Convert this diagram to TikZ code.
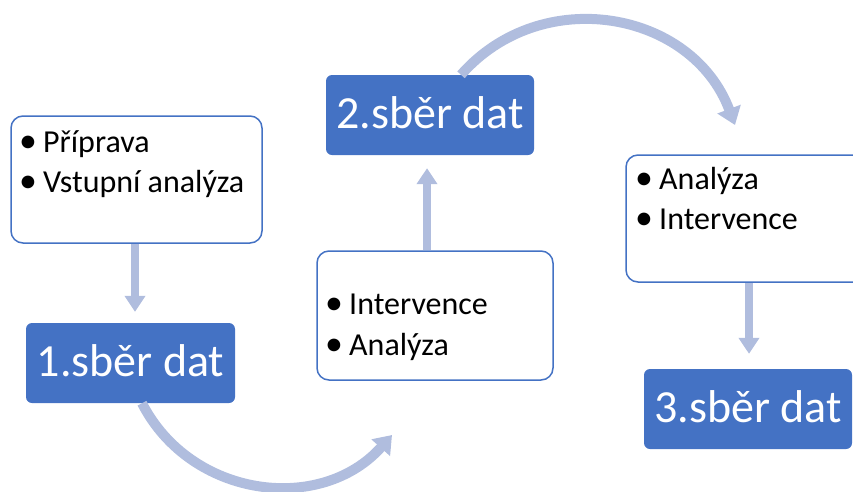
\documentclass[tikz,border=0pt]{standalone}
\usepackage{fontspec}
\usepackage{graphicx}
\setmainfont{Carlito}
\usetikzlibrary{arrows.meta}
\definecolor{boxblue}{RGB}{68,114,196}
\definecolor{arrowblue}{RGB}{176,189,222}
\newcommand{\bul}[1]{\makebox[24pt][l]{\raisebox{-0.5pt}{\scalebox{1.12}{\textbullet}}}#1}

\begin{document}
\begin{tikzpicture}[x=1pt,y=-1pt,
    listbox/.style={draw=boxblue,line width=1.5pt,fill=white,rounded corners=12pt,inner sep=0pt},
    roundbox/.style={fill=boxblue,rounded corners=6pt,text=white,font=\fontsize{46}{52}\selectfont,
      minimum width=208pt,minimum height=80pt,inner sep=0pt,text height=31pt,text depth=5pt},
    listline/.style={anchor=base west,inner sep=0pt,font=\fontsize{32}{38}\selectfont},
    flow/.style={draw=arrowblue,line width=8pt,-{Triangle[width=20pt,length=16pt]}},
    swing/.style={draw=arrowblue,line width=10pt,-{Triangle[width=24pt,length=17pt]}}]
  \useasboundingbox (0,0) rectangle (853,491);

  % boxes with bullet lists
  \node[listbox,minimum width=251pt,minimum height=127pt] (prep) at (136.5,179.5) {};
  \node[listline] (prepA) at (19,152) {\bul{Příprava}};
  \node[listline] (prepB) at (19,192) {\bul{Vstupní analýza}};

  \node[listbox,minimum width=236pt,minimum height=129pt] (mid) at (435,315.5) {};
  \node[listline] (midA) at (325,314) {\bul{Intervence}};
  \node[listline] (midB) at (325,355) {\bul{Analýza}};

  \node[listbox,minimum width=244pt,minimum height=127pt] (late) at (748,218.5) {};
  \node[listline] (lateA) at (635,189) {\bul{Analýza}};
  \node[listline] (lateB) at (635,229) {\bul{Intervence}};

  % data collection boxes
  \node[roundbox,minimum width=209pt] (sber1) at (130.5,363) {1.sběr dat};
  \node[roundbox] (sber2) at (430,115) {2.sběr dat};
  \node[roundbox] (sber3) at (748,409) {3.sběr dat};

  % arrows
  \draw[flow] ([xshift=-1.5pt]prep.south) -- ([xshift=4.5pt,yshift=11pt]sber1.north);
  \draw[flow] ([xshift=-8pt]mid.north) -- ([xshift=-3pt,yshift=-13pt]sber2.south);
  \draw[flow] ([xshift=1pt]late.south) -- ([xshift=1pt,yshift=15pt]sber3.north);

  \coordinate (lowEnd) at (392,435);
  \coordinate (highEnd) at (735,125);
  \draw[swing] ([xshift=11.5pt]sber1.south) .. controls (190.6,498) and (320.8,514.8) .. (lowEnd);
  \draw[swing] ([xshift=31pt]sber2.north) .. controls (541.7,-16.8) and (692,10.6) .. (highEnd);
\end{tikzpicture}
\end{document}
